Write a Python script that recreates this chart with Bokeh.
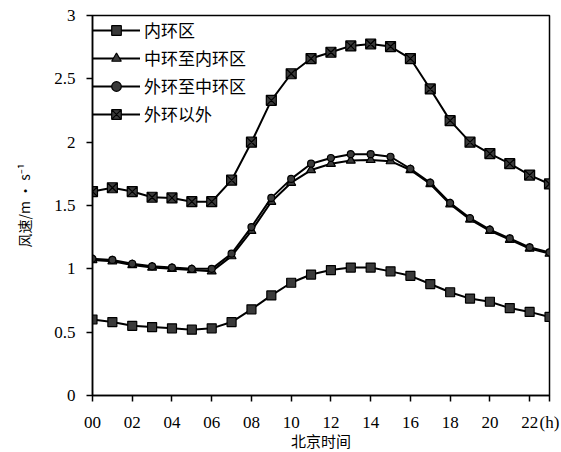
from bokeh.plotting import figure
from bokeh.models import Range1d, FixedTicker, NumeralTickFormatter, Legend, LegendItem
from bokeh.embed import file_html
from bokeh.resources import INLINE

hours = list(range(24))
x_ticks = [0, 2, 4, 6, 8, 10, 12, 14, 16, 18, 20, 22, 23]
x_tick_labels = ["00", "02", "04", "06", "08", "10", "12", "14", "16", "18", "20", "22", "(h)"]

names = ["内环区", "中环至内环区", "外环至中环区", "外环以外"]
inner = [0.60, 0.58, 0.55, 0.54, 0.53, 0.52, 0.53, 0.58, 0.68, 0.79, 0.89, 0.955,
         0.99, 1.01, 1.01, 0.98, 0.945, 0.88, 0.815, 0.765, 0.74, 0.69, 0.66, 0.62]
mid_inner = [1.07, 1.06, 1.03, 1.01, 1.00, 0.99, 0.98, 1.10, 1.30, 1.53, 1.68, 1.78,
             1.83, 1.855, 1.86, 1.85, 1.78, 1.67, 1.51, 1.39, 1.30, 1.23, 1.16, 1.12]
outer_mid = [1.08, 1.07, 1.04, 1.02, 1.01, 1.00, 1.00, 1.12, 1.33, 1.56, 1.71, 1.83,
             1.875, 1.905, 1.905, 1.885, 1.79, 1.68, 1.52, 1.40, 1.31, 1.24, 1.17, 1.13]
outside = [1.61, 1.64, 1.61, 1.565, 1.56, 1.53, 1.53, 1.70, 2.00, 2.33, 2.54, 2.66,
           2.71, 2.76, 2.775, 2.755, 2.66, 2.42, 2.17, 2.00, 1.91, 1.83, 1.74, 1.67]

p = figure(frame_width=457, frame_height=380, output_backend="svg", toolbar_location=None,
           x_range=Range1d(0, 23), y_range=Range1d(0, 3),
           min_border_left=92, min_border_right=12, min_border_top=15, min_border_bottom=40)
p.xgrid.visible = False
p.ygrid.visible = False
p.outline_line_color = "black"
p.outline_line_width = 1.5
p.background_fill_color = "white"
p.border_fill_color = "white"

serif = "Liberation Serif"
cjk = "Noto Sans CJK SC"

for ax in (p.xaxis[0], p.yaxis[0]):
    ax.axis_line_color = "black"
    ax.axis_line_width = 1.5
    ax.major_tick_line_color = "black"
    ax.major_tick_line_width = 1.5
    ax.major_tick_out = 6
    ax.major_tick_in = 0
    ax.minor_tick_line_color = None
    ax.major_label_text_font = serif
    ax.major_label_text_font_size = "17px"
    ax.major_label_text_color = "black"
    ax.axis_label_text_font = cjk
    ax.axis_label_text_font_style = "normal"
    ax.axis_label_text_color = "black"

p.xaxis.ticker = FixedTicker(ticks=x_ticks)
p.xaxis.major_label_overrides = {t: l for t, l in zip(x_ticks, x_tick_labels)}
p.xaxis.major_label_standoff = 11
p.xaxis.axis_label = "北京时间"
p.xaxis.axis_label_text_font_size = "15px"
p.xaxis.axis_label_standoff = -5

p.yaxis.ticker = FixedTicker(ticks=[0, 0.5, 1, 1.5, 2, 2.5, 3])
p.yaxis.formatter = NumeralTickFormatter(format="0.[0]")
p.yaxis.major_label_standoff = 11
p.yaxis.axis_label = "风速/m · s⁻¹"
p.yaxis.axis_label_text_font_size = "14px"
p.yaxis.axis_label_standoff = 17

series = [inner, mid_inner, outer_mid, outside]
markers = ["square", "triangle", "circle", "square_x"]
sizes = [9, 9, 7, 10]
items = []
for name, ys, mk, sz in zip(names, series, markers, sizes):
    ln = p.line(hours, ys, line_color="black", line_width=2)
    sc = p.scatter(hours, ys, marker=mk, size=sz, fill_color="#3a3a3a",
                   line_color="black", line_width=1.2)
    items.append(LegendItem(label=name, renderers=[ln, sc]))

legend = Legend(items=items, location=(0, 269), margin=0, padding=0,
                glyph_width=48, glyph_height=24, label_height=24, spacing=3,
                label_standoff=4, border_line_color=None, background_fill_alpha=0,
                label_text_font=cjk, label_text_font_size="17px", label_text_color="black")
p.add_layout(legend)

open("out.html", "w").write(file_html(p, INLINE))
